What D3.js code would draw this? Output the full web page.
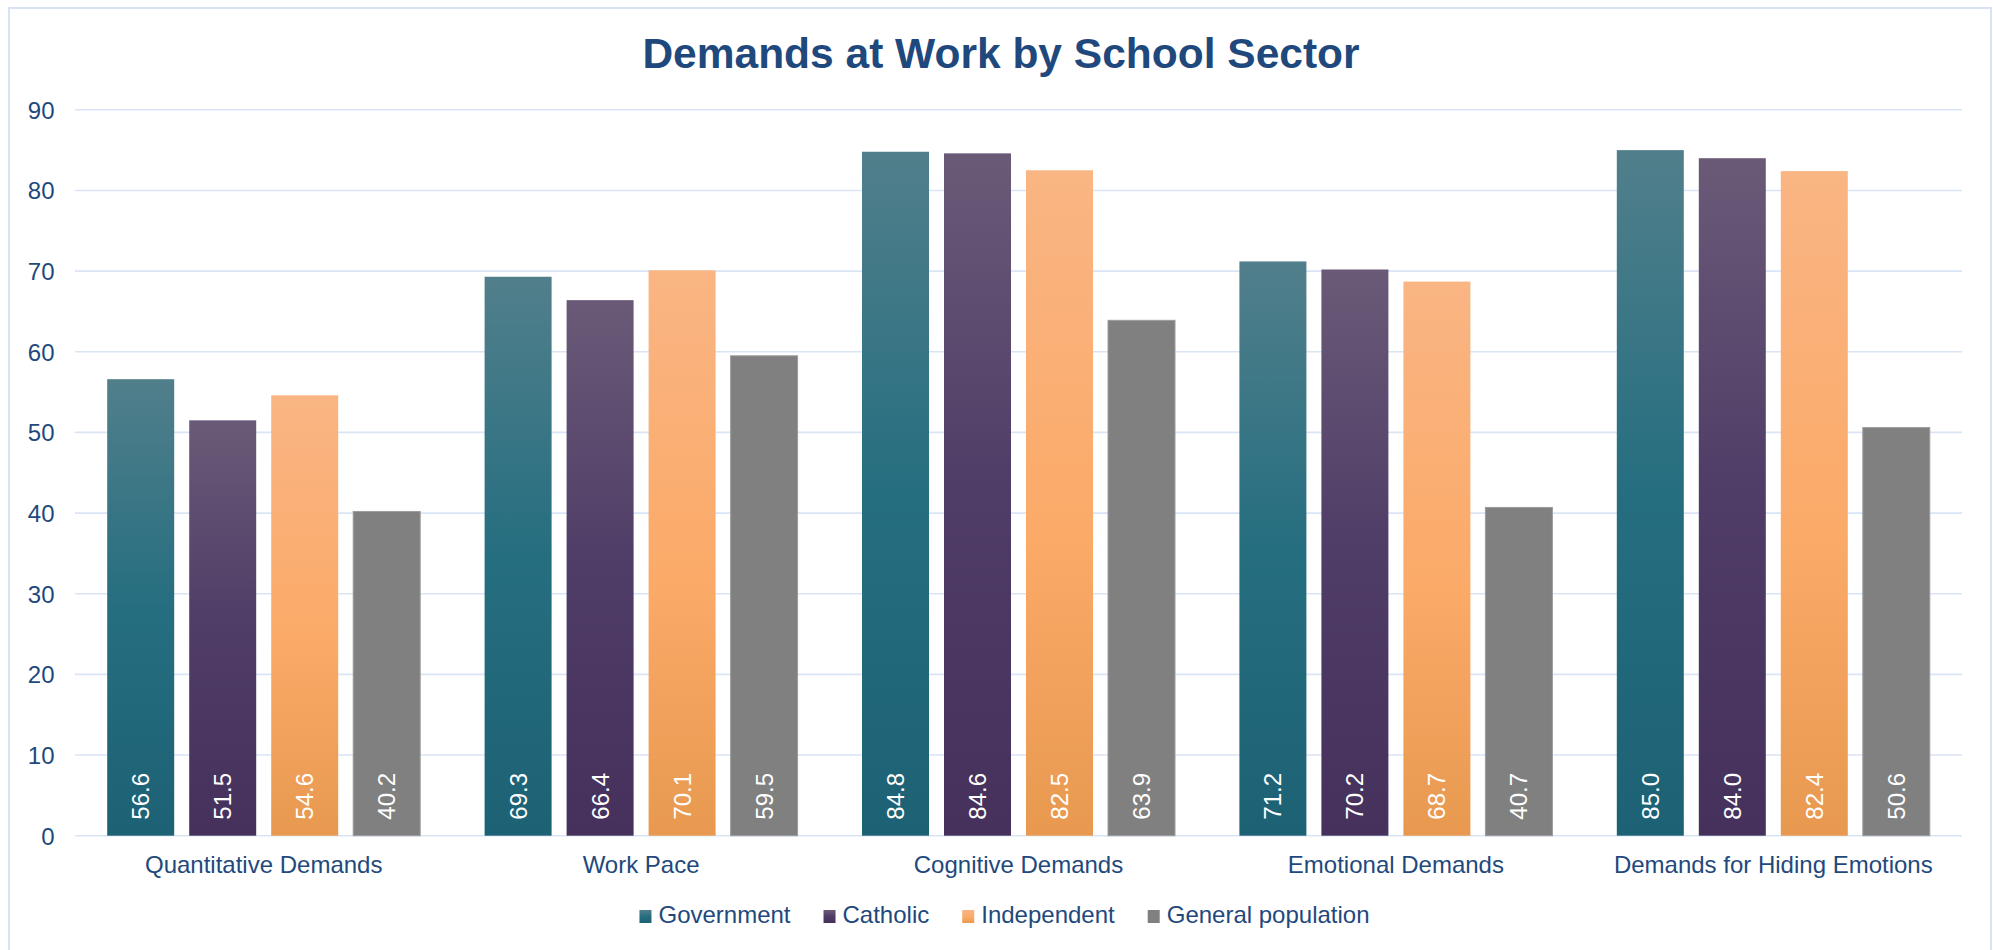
<!DOCTYPE html>
<html>
<head>
<meta charset="utf-8">
<script src="https://cdn.jsdelivr.net/npm/d3@7"></script>
<style>
  html, body { margin: 0; padding: 0; background: #ffffff; }
  svg { display: block; }
  text { font-family: "Liberation Sans", Arial, Helvetica, sans-serif; }
</style>
</head>
<body>
<svg id="chart" width="1993" height="950"></svg>
<script>
// Chart data
const categories = ["Quantitative Demands", "Work Pace", "Cognitive Demands", "Emotional Demands", "Demands for Hiding Emotions"];
const seriesNames = ["Government", "Catholic", "Independent", "General population"];
const government  = [56.6, 69.3, 84.8, 71.2, 85.0];
const catholic    = [51.5, 66.4, 84.6, 70.2, 84.0];
const independent = [54.6, 70.1, 82.5, 68.7, 82.4];
const generalPop  = [40.2, 59.5, 63.9, 40.7, 50.6];
const yTicks = [0, 10, 20, 30, 40, 50, 60, 70, 80, 90];
const titleText = "Demands at Work by School Sector";

const seriesValues = [government, catholic, independent, generalPop];

// Fill styles per series: gradient stops (top → bottom) or a flat colour
const seriesFills = [
  { id: "gGov",  stops: [["0%", "#517f8b"], ["50%", "#256e80"], ["100%", "#1d6174"]] },
  { id: "gCath", stops: [["0%", "#6a5a77"], ["50%", "#4f3c67"], ["100%", "#45315b"]] },
  { id: "gInd",  stops: [["0%", "#f9b583"], ["55%", "#fbaa68"], ["100%", "#e8994f"]] },
  { id: "gGen",  stops: [["0%", "#808080"], ["100%", "#808080"]] }
];

const textColor = "#1f497d";
const gridColor = "#d9e5f5";

const svg = d3.select("#chart");
const defs = svg.append("defs");
seriesFills.forEach(f => {
  const lg = defs.append("linearGradient")
    .attr("id", f.id).attr("x1", 0).attr("y1", 0).attr("x2", 0).attr("y2", 1);
  f.stops.forEach(s => lg.append("stop").attr("offset", s[0]).attr("stop-color", s[1]));
});

// Outer chart frame
svg.append("rect")
  .attr("x", 9).attr("y", 8)
  .attr("width", 1982).attr("height", 960)
  .attr("fill", "#ffffff")
  .attr("stroke", "#d6e3f3")
  .attr("stroke-width", 2);

// Title
svg.append("text")
  .attr("x", 1001).attr("y", 68)
  .attr("text-anchor", "middle")
  .attr("font-size", "42.5px")
  .attr("font-weight", "bold")
  .attr("fill", textColor)
  .text(titleText);

// Plot area
const plot = { left: 75, right: 1962, top: 109.8, bottom: 835.7 };

const y = d3.scaleLinear()
  .domain([0, 90])
  .range([plot.bottom, plot.top]);

const x0 = d3.scaleBand()
  .domain(categories)
  .range([plot.left, plot.right])
  .paddingInner(0)
  .paddingOuter(0);

const groupPad = 32.2;
const x1 = d3.scaleBand()
  .domain(seriesNames)
  .range([groupPad, x0.bandwidth() - groupPad])
  .paddingInner(0.183)
  .paddingOuter(0);

// Horizontal gridlines
svg.append("g")
  .selectAll("line")
  .data(yTicks)
  .join("line")
  .attr("x1", plot.left).attr("x2", plot.right)
  .attr("y1", d => y(d)).attr("y2", d => y(d))
  .attr("stroke", gridColor)
  .attr("stroke-width", 1.6);

// Y axis labels
const yAxis = d3.axisLeft(y).tickValues(yTicks).tickSize(0).tickPadding(0).tickFormat(d3.format("d"));
const yAxisG = svg.append("g")
  .attr("transform", `translate(54.5,0)`)
  .call(yAxis);
yAxisG.select(".domain").remove();
yAxisG.selectAll("text")
  .attr("font-size", "24px")
  .attr("fill", textColor)
  .attr("dy", "0.35em")
  .style("font-family", '"Liberation Sans", Arial, sans-serif');

// X axis labels
const xAxis = d3.axisBottom(x0).tickSize(0).tickPadding(0);
const xAxisG = svg.append("g")
  .attr("transform", `translate(0,${plot.bottom})`)
  .call(xAxis);
xAxisG.select(".domain").remove();
xAxisG.selectAll("text")
  .attr("font-size", "24px")
  .attr("fill", textColor)
  .attr("dy", null)
  .attr("y", 37)
  .style("font-family", '"Liberation Sans", Arial, sans-serif');

// Bars
const barData = [];
categories.forEach((c, ci) => {
  seriesNames.forEach((s, si) => {
    barData.push({ category: c, series: s, si: si, value: seriesValues[si][ci] });
  });
});

const bars = svg.append("g");
bars.selectAll("rect")
  .data(barData)
  .join("rect")
  .attr("x", d => x0(d.category) + x1(d.series))
  .attr("y", d => y(d.value))
  .attr("width", x1.bandwidth())
  .attr("height", d => y(0) - y(d.value))
  .attr("fill", d => `url(#${seriesFills[d.si].id})`)
  .attr("stroke", d => d.si === 3 ? "#9c9c9c" : "none")
  .attr("stroke-width", d => d.si === 3 ? 1 : 0);

// Value labels inside the base of each bar
svg.append("g")
  .selectAll("text")
  .data(barData)
  .join("text")
  .attr("transform", d => {
    const cx = x0(d.category) + x1(d.series) + x1.bandwidth() / 2 + 8.5;
    return `translate(${cx},${y(0) - 16}) rotate(-90)`;
  })
  .attr("text-anchor", "start")
  .attr("font-size", "24px")
  .attr("fill", "#ffffff")
  .text(d => d3.format(".1f")(d.value));

// Legend
const legend = svg.append("g");
const items = legend.selectAll("g")
  .data(seriesNames)
  .join("g");
items.append("rect")
  .attr("x", 0).attr("y", 910)
  .attr("width", 12).attr("height", 13)
  .attr("fill", (d, i) => `url(#${seriesFills[i].id})`);
items.append("text")
  .attr("x", 19).attr("y", 923)
  .attr("font-size", "24px")
  .attr("fill", textColor)
  .text(d => d);

let cursor = 0;
const offsets = [];
items.each(function () {
  offsets.push(cursor);
  const w = d3.select(this).select("text").node().getComputedTextLength();
  cursor += 19 + w + 33;
});
const legendWidth = cursor - 33;
const legendStart = 1004.5 - legendWidth / 2;
items.attr("transform", (d, i) => `translate(${legendStart + offsets[i]},0)`);
</script>
</body>
</html>
